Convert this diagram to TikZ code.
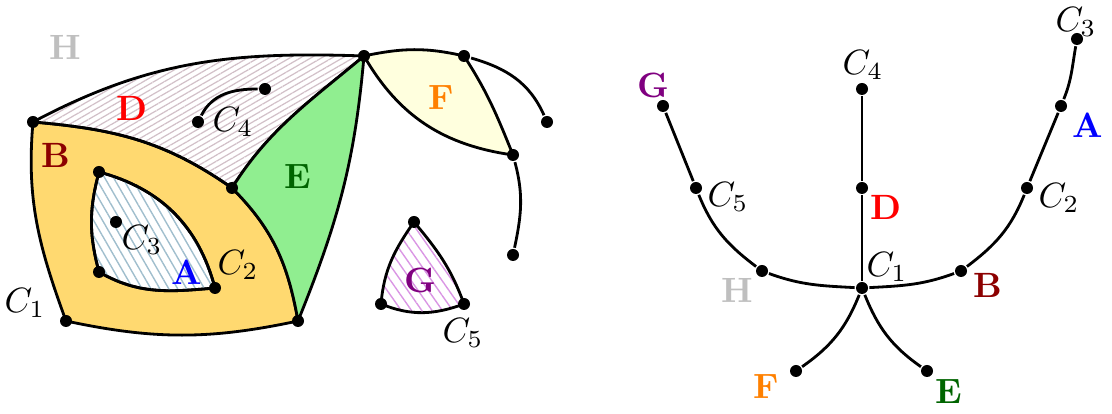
\documentclass[tikz,border=0pt]{standalone}
\usepackage{tikz}
\usetikzlibrary{
    patterns.meta,
    backgrounds
}
\usepackage{xcolor}
\usepackage{amsmath}
\definecolor{darkred}{rgb}{0.55, 0.0, 0.0}
\definecolor{faceB}{RGB}{255,217,112}
\definecolor{faceE}{RGB}{144,238,144}
\definecolor{faceF}{RGB}{255,255,222}
\definecolor{hatchA}{RGB}{160,190,205}
\definecolor{hatchD}{RGB}{210,192,200}
\definecolor{hatchG}{RGB}{218,150,228}
\definecolor{darkgreen}{RGB}{0,100,0}
\definecolor{purp}{RGB}{128,0,128}
\tikzstyle{dot} = [
    circle,
    fill=black,
    inner sep=0pt,
    minimum size=0.12cm
]
\tikzstyle{face} = [
    font=\bfseries
]
\tikzstyle{border} = [
    draw=black,
    thick,
    line join=round
]

\begin{document}
\begin{tikzpicture}[thick, line join=round]
        \useasboundingbox (0,0) rectangle (11.12,4.14);

        % Map: vertices
        \node[dot] (p1) at (0.33,2.92) {};
        \node[dot] (top) at (3.64,3.58) {};
        \node[dot] (mid) at (2.32,2.26) {};
        \node[dot] (br) at (2.98,0.93) {};
        \node[dot] (bl) at (0.66,0.93) {};
        \node[dot] (a1) at (0.99,2.42) {};
        \node[dot] (a2) at (0.99,1.42) {};
        \node[dot] (a3) at (2.15,1.26) {};
        \node[dot] (c3) at (1.16,1.92) {};
        \node[dot] (c4a) at (1.98,2.92) {};
        \node[dot] (c4b) at (2.65,3.25) {};
        \node[dot] (f1) at (4.64,3.58) {};
        \node[dot] (f2) at (5.13,2.59) {};
        \node[dot] (fa) at (5.47,2.92) {};
        \node[dot] (fb) at (5.13,1.59) {};
        \node[dot] (g1) at (4.14,1.92) {};
        \node[dot] (g2) at (3.81,1.10) {};
        \node[dot] (g3) at (4.64,1.10) {};

        % Map: faces
        \begin{scope}[on background layer]
        \path[border, fill=faceB, even odd rule]
            (p1.center) to[out=-95,in=110] (bl.center)
            to[out=-12,in=192] (br.center)
            to[out=100,in=-45] (mid.center)
            to[out=145,in=-5] (p1.center) -- cycle
            (a1.center) to[out=-15,in=105] (a3.center)
            to[out=185,in=-30] (a2.center)
            to[out=105,in=-105] (a1.center) -- cycle;
        \path[border, pattern={Lines[angle=-60,distance=2.2pt,line width=0.4pt]}, pattern color=hatchA]
            (a1.center) to[out=-15,in=105] (a3.center)
            to[out=185,in=-30] (a2.center)
            to[out=105,in=-105] (a1.center) -- cycle;
        \path[border, pattern={Lines[angle=30,distance=1.5pt,line width=0.35pt]}, pattern color=hatchD]
            (p1.center) to[out=28,in=178] (top.center)
            to[out=-140,in=58] (mid.center)
            to[out=145,in=-5] (p1.center) -- cycle;
        \path[border, fill=faceE]
            (top.center) to[out=-140,in=58] (mid.center)
            to[out=-45,in=100] (br.center)
            to[out=68,in=-95] (top.center) -- cycle;
        \path[border, fill=faceF]
            (top.center) to[out=12,in=167] (f1.center)
            to[out=-57,in=112] (f2.center)
            to[out=172,in=-60] (top.center) -- cycle;
        \path[border, pattern={Lines[angle=-55,distance=2.4pt,line width=0.4pt]}, pattern color=hatchG]
            (g1.center) to[out=-125,in=85] (g2.center)
            to[out=-22,in=200] (g3.center)
            to[out=110,in=-50] (g1.center) -- cycle;
        \end{scope}

        % Map: loose edges
        \draw (c4a) to[out=63,in=180] (c4b);
        \draw (f1) to[out=-16,in=114] (fa);
        \draw (f2) to[out=-75,in=78] (fb);

        % Map: labels
        \node[face, lightgray] (lH) at (0.65,3.67) {H};
        \node[face, red] (lD) at (1.32,3.06) {D};
        \node[face, darkred] (lB) at (0.56,2.59) {B};
        \node[face, darkgreen] (lE) at (2.98,2.37) {E};
        \node[face, blue] (lA) at (1.87,1.42) {A};
        \node[face, orange] (lF) at (4.41,3.16) {F};
        \node[face, purp] (lG) at (4.20,1.34) {G};
        \node (lc1) at (0.25,1.11) {$C_1$};
        \node (lc2) at (2.38,1.49) {$C_2$};
        \node (lc3) at (1.42,1.74) {$C_3$};
        \node (lc4) at (2.33,2.92) {$C_4$};
        \node (lc5) at (4.63,0.81) {$C_5$};

        % Tree: vertices
        \node[dot] (r1) at (8.62,1.26) {};
        \node[dot] (r4) at (8.62,3.25) {};
        \node[dot] (rd) at (8.62,2.26) {};
        \node[dot] (rh) at (7.62,1.43) {};
        \node[dot] (r5) at (6.96,2.26) {};
        \node[dot] (rg) at (6.63,3.08) {};
        \node[dot] (rb) at (9.61,1.43) {};
        \node[dot] (r2) at (10.27,2.26) {};
        \node[dot] (ra) at (10.61,3.08) {};
        \node[dot] (r3) at (10.77,3.75) {};
        \node[dot] (rf) at (7.96,0.43) {};
        \node[dot] (re) at (9.27,0.43) {};

        % Tree: edges
        \draw (r1) to[out=177,in=-20] (rh) to[out=143,in=-68] (r5) -- (rg);
        \draw (r1) to[out=3,in=200] (rb) to[out=37,in=-112] (r2) -- (ra) to[out=68,in=-100] (r3);
        \draw (r1) -- (rd) -- (r4);
        \draw (r1) to[out=-112,in=35] (rf);
        \draw (r1) to[out=-68,in=145] (re);

        % Tree: labels
        \node (tc1) at (8.87,1.47) {$C_1$};
        \node (tc2) at (10.59,2.16) {$C_2$};
        \node (tc3) at (10.76,3.92) {$C_3$};
        \node (tc4) at (8.63,3.49) {$C_4$};
        \node (tc5) at (7.28,2.17) {$C_5$};
        \node[face, red] (tD) at (8.86,2.07) {D};
        \node[face, lightgray] (tH) at (7.37,1.24) {H};
        \node[face, purp] (tG) at (6.53,3.29) {G};
        \node[face, darkred] (tB) at (9.88,1.29) {B};
        \node[face, blue] (tA) at (10.88,2.89) {A};
        \node[face, orange] (tF) at (7.66,0.27) {F};
        \node[face, darkgreen] (tE) at (9.49,0.22) {E};
    \end{tikzpicture}
\end{document}
